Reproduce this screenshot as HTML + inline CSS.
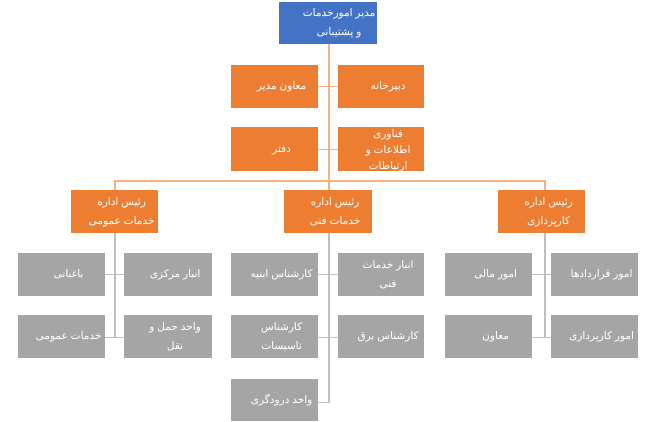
<!DOCTYPE html>
<html><head><meta charset="utf-8"><style>
body{margin:0;width:655px;height:422px;background:#fff;position:relative;overflow:hidden;font-family:"Liberation Sans","Noto Sans CJK SC",sans-serif;}
.b{position:absolute;color:#fff;font-size:10.5px;line-height:19px;display:flex;align-items:center;justify-content:center;text-align:center;direction:rtl;box-sizing:border-box;padding-left:14px;}
.o{background:#ED7D31;}
.g{background:#A5A5A5;}
.l{position:absolute;}
.ol{background:#F4B183;}
.gl{background:#BFBFBF;}
</style></head><body>
<div class="l ol" style="left:328px;top:44px;width:2px;height:146px"></div>
<div class="l ol" style="left:318px;top:86px;width:20px;height:1px"></div>
<div class="l ol" style="left:318px;top:149px;width:20px;height:1px"></div>
<div class="l ol" style="left:114px;top:180px;width:432px;height:2px"></div>
<div class="l ol" style="left:114px;top:180px;width:2px;height:10px"></div>
<div class="l ol" style="left:544px;top:180px;width:2px;height:10px"></div>
<div class="l gl" style="left:114px;top:233px;width:2px;height:104px"></div>
<div class="l gl" style="left:105px;top:274px;width:19px;height:1px"></div>
<div class="l gl" style="left:105px;top:337px;width:19px;height:1px"></div>
<div class="l gl" style="left:328px;top:233px;width:2px;height:170px"></div>
<div class="l gl" style="left:318px;top:274px;width:20px;height:1px"></div>
<div class="l gl" style="left:318px;top:337px;width:20px;height:1px"></div>
<div class="l gl" style="left:318px;top:402px;width:12px;height:1px"></div>
<div class="l gl" style="left:544px;top:233px;width:2px;height:104px"></div>
<div class="l gl" style="left:532px;top:274px;width:19px;height:1px"></div>
<div class="l gl" style="left:532px;top:337px;width:19px;height:1px"></div>
<div class="b" style="left:279px;top:2px;width:98px;height:42px;background:#4472C4;padding-left:22px">مدیر امورخدمات<br>و پشتیبانی</div>
<div class="b o" style="left:231px;top:65px;width:87px;height:43px">معاون مدیر</div>
<div class="b o" style="left:338px;top:65px;width:86px;height:43px">دبیرخانه</div>
<div class="b o" style="left:231px;top:127px;width:87px;height:44px">دفتر</div>
<div class="b o" style="left:338px;top:127px;width:86px;height:44px;line-height:16px;padding-top:2px">فناوری<br>اطلاعات و<br>ارتباطات</div>
<div class="b o" style="left:71px;top:190px;width:87px;height:43px">رئیس اداره<br>خدمات عمومی</div>
<div class="b o" style="left:284px;top:190px;width:88px;height:43px">رئیس اداره<br>خدمات فنی</div>
<div class="b o" style="left:498px;top:190px;width:87px;height:43px">رئیس اداره<br>کارپردازی</div>
<div class="b g" style="left:18px;top:253px;width:87px;height:43px">باغبانی</div>
<div class="b g" style="left:124px;top:253px;width:88px;height:43px">انبار مرکزی</div>
<div class="b g" style="left:18px;top:315px;width:87px;height:43px">خدمات عمومی</div>
<div class="b g" style="left:124px;top:315px;width:88px;height:43px">واحد حمل و<br>نقل</div>
<div class="b g" style="left:231px;top:253px;width:87px;height:43px">کارشناس ابنیه</div>
<div class="b g" style="left:338px;top:253px;width:86px;height:43px">انبار خدمات<br>فنی</div>
<div class="b g" style="left:231px;top:315px;width:87px;height:43px">کارشناس<br>تاسیسات</div>
<div class="b g" style="left:338px;top:315px;width:86px;height:43px">کارشناس برق</div>
<div class="b g" style="left:231px;top:379px;width:87px;height:42px">واحد درودگری</div>
<div class="b g" style="left:445px;top:253px;width:87px;height:43px">امور مالی</div>
<div class="b g" style="left:551px;top:253px;width:87px;height:43px">امور قراردادها</div>
<div class="b g" style="left:445px;top:315px;width:87px;height:43px">معاون</div>
<div class="b g" style="left:551px;top:315px;width:87px;height:43px">امور کارپردازی</div>
</body></html>
